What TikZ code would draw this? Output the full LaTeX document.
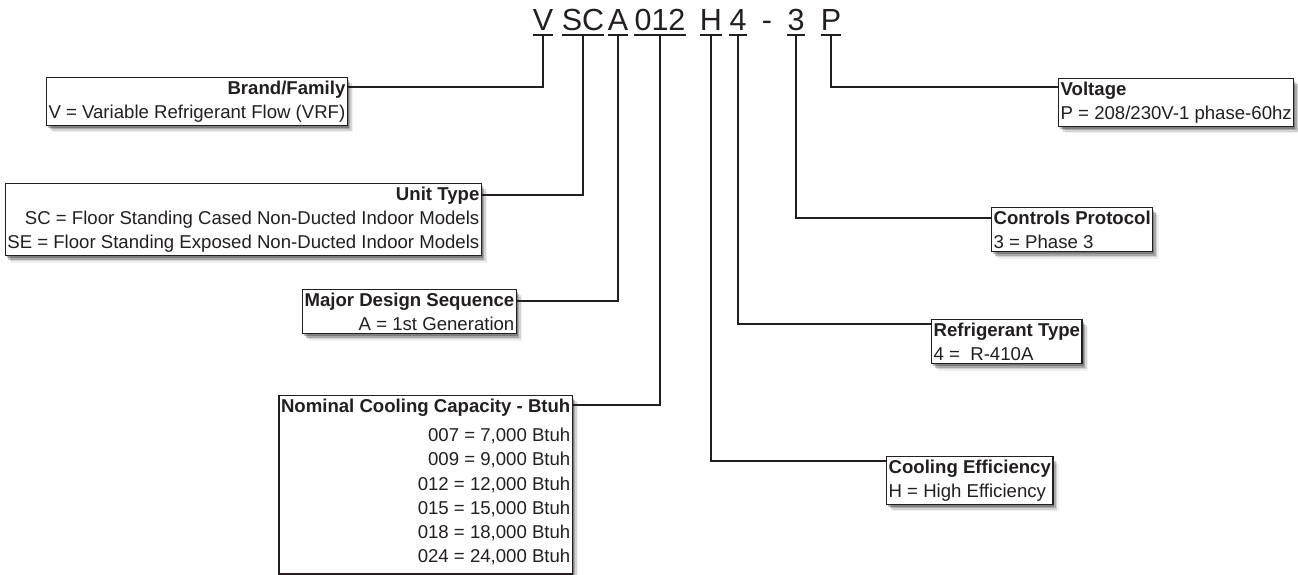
\documentclass[tikz,border=0pt]{standalone}
\usepackage{fontspec}
\setmainfont{Liberation Sans}
\usetikzlibrary{shadows}
\definecolor{ink}{HTML}{231F20}
\tikzset{
  codechar/.style={inner xsep=0pt, inner ysep=4pt, text depth=0pt, anchor=base,
    font=\fontsize{30.5}{36}\selectfont, text=ink},
  uline/.style={line width=2.2pt, draw=ink},
  link/.style={line width=2.5pt, draw=ink},
  softshadow/.style={
    drop shadow={shadow xshift=1.5pt, shadow yshift=-2.5pt, opacity=.25, fill=black},
    drop shadow={shadow xshift=3pt, shadow yshift=-4pt, opacity=.2, fill=black},
    drop shadow={shadow xshift=4.5pt, shadow yshift=-5.5pt, opacity=.12, fill=black},
    drop shadow={shadow xshift=6pt, shadow yshift=-7pt, opacity=.06, fill=black}},
  infobox/.style={softshadow, draw=ink, line width=1.3pt, fill=white,
    inner xsep=2pt, inner ysep=3pt, text=ink,
    font=\fontsize{18.6}{24.3}\selectfont},
}
\begin{document}
\begin{tikzpicture}[x=1pt,y=-1pt]
    \useasboundingbox (0,0) rectangle (1298,575);
    % model number
    \foreach \n/\t/\x in {cV/V/543, cSC/SC/583, cA/A/618, c012/012/660,
                          cH/H/711, c4/4/738, c3/3/796, cP/P/831}
      \node[codechar] (\n) at (\x,31) {\t};
    \node[codechar] (cdash) at (767,31) {-};
    \foreach \n in {cV,cSC,cA,c012,cH,c4,c3,cP}
      \draw[uline] (\n.south west) -- (\n.south east);
    % left side boxes
    \node[infobox, align=right, anchor=north east] (brand) at (348,77)
      {\textbf{Brand/Family}\\V = Variable Refrigerant Flow (VRF)};
    \node[infobox, align=right, anchor=north east] (unit) at (482,183)
      {\textbf{Unit Type}\\SC = Floor Standing Cased Non-Ducted Indoor Models\\
       SE = Floor Standing Exposed Non-Ducted Indoor Models};
    \node[infobox, align=right, anchor=north east] (design) at (517,289)
      {\textbf{Major Design Sequence}\\A = 1st Generation};
    \node[infobox, align=right, anchor=north east] (capacity) at (573,395)
      {\textbf{Nominal Cooling Capacity - Btuh}\\[5pt]
       007 = 7,000 Btuh\\009 = 9,000 Btuh\\012 = 12,000 Btuh\\
       015 = 15,000 Btuh\\018 = 18,000 Btuh\\
       024 = 24,000 Btuh\rule[-8pt]{0pt}{8pt}};
    % right side boxes
    \node[infobox, align=left, anchor=north west] (voltage) at (1058,78)
      {\textbf{Voltage}\\P = 208/230V-1 phase-60hz};
    \node[infobox, align=left, anchor=north west] (controls) at (991,207)
      {\textbf{Controls Protocol}\\3 = Phase 3};
    \node[infobox, align=left, anchor=north west] (refrig) at (931,319)
      {\textbf{Refrigerant Type}\\4 =\ \ R-410A};
    \node[infobox, align=left, anchor=north west] (effic) at (886,456)
      {\textbf{Cooling Efficiency}\\H = High Efficiency};
    % connectors
    \draw[link] (cV.south) |- ([yshift=-10pt]brand.north east);
    \draw[link] (cSC.south) |- ([yshift=-12pt]unit.north east);
    \draw[link] (cA.south) |- ([yshift=-12pt]design.north east);
    \draw[link] (c012.south) |- ([yshift=-10pt]capacity.north east);
    \draw[link] (cP.south) |- ([yshift=-9pt]voltage.north west);
    \draw[link] (c3.south) |- ([yshift=-11pt]controls.north west);
    \draw[link] (c4.south) |- ([yshift=-5pt]refrig.north west);
    \draw[link] (cH.south) |- ([yshift=-5pt]effic.north west);
\end{tikzpicture}
\end{document}
